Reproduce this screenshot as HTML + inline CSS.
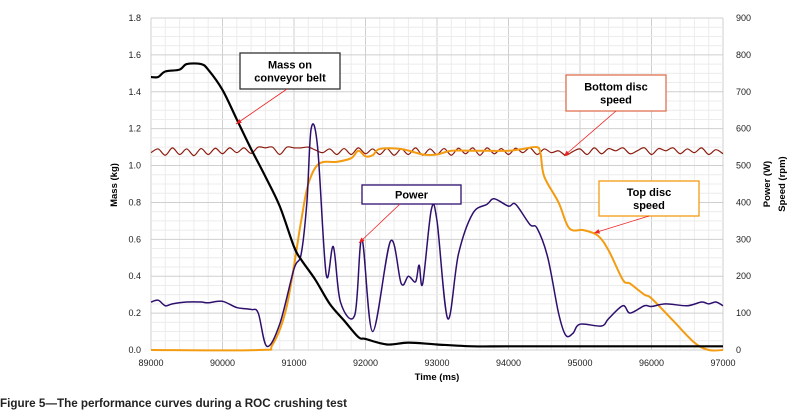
<!DOCTYPE html>
<html><head><meta charset="utf-8"><style>
body{margin:0;background:#fff;width:794px;height:412px;overflow:hidden}
svg{font-family:"Liberation Sans",sans-serif}
</style></head><body>
<svg id="c" width="794" height="412"></svg>
<script>
const massT=[89000,89100,89200,89400,89500,89700,89800,90000,90200,90400,90600,90800,91000,91100,91300,91500,91700,91900,92000,92300,92600,93000,93500,94000,95000,96000,97000];
const massV=[1.48,1.48,1.51,1.52,1.55,1.55,1.52,1.41,1.25,1.09,0.94,0.78,0.56,0.49,0.38,0.25,0.16,0.07,0.06,0.03,0.04,0.03,0.02,0.02,0.02,0.02,0.02];
const powT=[89000,89100,89200,89300,89500,89700,89800,90000,90200,90400,90500,90620,90800,91000,91100,91180,91240,91330,91450,91550,91650,91850,91950,92100,92350,92500,92600,92700,92750,92800,92920,93000,93150,93300,93500,93700,93800,94000,94100,94300,94400,94550,94700,94800,94900,95000,95300,95400,95600,95700,95900,96000,96200,96500,96700,96800,96900,97000];
const powV=[130,135,120,125,130,130,128,132,115,110,100,10,70,220,260,400,600,550,205,280,130,95,300,50,295,180,200,185,230,180,380,350,85,260,370,395,410,390,395,340,330,250,100,40,45,70,65,85,120,100,120,118,125,120,130,125,130,120];
const topT=[89000,90500,90700,90900,91100,91200,91350,91600,91800,91900,92000,92100,92200,92500,92800,93000,93200,93500,93700,94000,94200,94400,94450,94500,94700,94850,95050,95250,95400,95600,95700,95900,96000,96300,96600,96800,97000];
const topV=[0,0,15,120,350,450,505,510,520,540,525,528,545,545,530,530,540,540,540,540,545,550,530,470,400,330,325,310,270,190,180,150,140,80,20,0,0];
const botT=[89000,89100,89200,89300,89400,89500,89600,89700,89800,89900,90000,90100,90200,90300,90400,90500,90600,90700,90800,90900,91000,91100,91200,91300,91400,91500,91600,91700,91800,91900,92000,92100,92200,92300,92400,92500,92600,92700,92800,92900,93000,93100,93200,93300,93400,93500,93600,93700,93800,93900,94000,94100,94200,94300,94400,94500,94600,94700,94800,94900,95000,95100,95200,95300,95400,95500,95600,95700,95800,95900,96000,96100,96200,96300,96400,96500,96600,96700,96800,96900,97000];
const botV=[535,545,528,548,530,545,527,546,530,547,532,548,535,548,533,550,548,550,530,550,548,548,550,542,535,545,530,546,530,548,532,545,530,546,528,545,530,548,528,545,530,546,528,547,532,548,528,548,532,546,530,547,535,548,530,545,535,540,528,538,545,530,548,532,546,540,548,532,540,548,530,546,540,548,532,545,535,548,530,543,532];
const yTicks=["0.0","0.2","0.4","0.6","0.8","1.0","1.2","1.4","1.6","1.8"];
const y2Ticks=["0","100","200","300","400","500","600","700","800","900"];
const xTicks=["89000","90000","91000","92000","93000","94000","95000","96000","97000"];

const L=151,R=723,T=18,B=350;
const sx=t=>L+(t-89000)/8000*(R-L);
const sy=v=>B-v/1.8*(B-T);
const sy2=v=>B-v/900*(B-T);
const svg=document.getElementById('c');const NS='http://www.w3.org/2000/svg';
function mk(tag,at,txt){const e=document.createElementNS(NS,tag);for(const k in at)e.setAttribute(k,at[k]);if(txt!=null)e.textContent=txt;svg.appendChild(e);return e;}
for(let t=89000;t<=97000;t+=200){const e=mk('line',{x1:sx(t),x2:sx(t),y1:T,y2:B,stroke:t%1000?'#ececec':'#cfcfcf','stroke-width':1});
}
for(let i=0;i<=36;i++){const v=i*0.05;const e=mk('line',{x1:L,x2:R,y1:sy(v),y2:sy(v),stroke:i%4?'#ececec':'#cfcfcf','stroke-width':1});
}
yTicks.forEach((s,i)=>{const e=mk('text',{x:141,y:sy(+s)+3,'text-anchor':'end','font-size':9,fill:'#222'},s);
});
y2Ticks.forEach((s,i)=>{const e=mk('text',{x:736,y:sy2(+s)+3,'font-size':9,fill:'#222'},s);
});
xTicks.forEach(s=>{const e=mk('text',{x:sx(+s),y:366,'text-anchor':'middle','font-size':9,fill:'#222'},s);
});
function path(ts,vs,f){const p=ts.map((t,i)=>[sx(t),f(vs[i])]);let d='M'+p[0][0]+','+p[0][1];
for(let i=0;i<p.length-1;i++){const p0=p[i-1]||p[i],p1=p[i],p2=p[i+1],p3=p[i+2]||p2;
d+=` C${p1[0]+(p2[0]-p0[0])/6},${p1[1]+(p2[1]-p0[1])/6} ${p2[0]-(p3[0]-p1[0])/6},${p2[1]-(p3[1]-p1[1])/6} ${p2[0]},${p2[1]}`;}return d;}
let e;
e=mk('path',{d:path(botT,botV,sy2),fill:'none',stroke:'#8b1a0c','stroke-width':1.2});
e=mk('path',{d:path(topT,topV,sy2),fill:'none',stroke:'#f39c12','stroke-width':2});
e=mk('path',{d:path(powT,powV,sy2),fill:'none',stroke:'#2e0f6e','stroke-width':1.5});
e=mk('path',{d:path(massT,massV,sy),fill:'none',stroke:'#000','stroke-width':2.2});
e=mk('text',{x:437,y:380,'text-anchor':'middle','font-size':9.5,'font-weight':'bold'},'Time (ms)');
e=mk('text',{transform:'translate(117,185) rotate(-90)','text-anchor':'middle','font-size':9.5,'font-weight':'bold'},'Mass (kg)');
e=mk('text',{transform:'translate(770,184) rotate(-90)','text-anchor':'middle','font-size':9.5,'font-weight':'bold'},'Power (W)');
e=mk('text',{transform:'translate(785,184) rotate(-90)','text-anchor':'middle','font-size':9.5,'font-weight':'bold'},'Speed (rpm)');
function box(x,y,w,h,col,lines,name,ax1,ay1,ax2,ay2){
 const b=mk('rect',{x,y,width:w,height:h,fill:'#fff',stroke:col,'stroke-width':1.3});
 lines.forEach((s,i)=>{const t=mk('text',{x:x+w/2,y:y+h/2+4+(i-(lines.length-1)/2)*13,'text-anchor':'middle','font-size':11,'font-weight':'bold'},s);});
 const a=mk('line',{x1:ax1,y1:ay1,x2:ax2,y2:ay2,stroke:'#e22','stroke-width':0.8});
 const ang=Math.atan2(ay2-ay1,ax2-ax1),s=6;
 const h2=mk('polygon',{points:`${ax2},${ay2} ${ax2-s*Math.cos(ang-0.4)},${ay2-s*Math.sin(ang-0.4)} ${ax2-s*Math.cos(ang+0.4)},${ay2-s*Math.sin(ang+0.4)}`,fill:'#e22'});
}
box(240,53,100,36,'#333',['Mass on','conveyor belt'],'mass-annotation',287,89,236,124);
box(566,75,100,36,'#e07050',['Bottom disc','speed'],'bottom-disc-annotation',616,111,564,156);
box(599,181,100,35,'#f39c12',['Top disc','speed'],'top-disc-annotation',649,216,594,233);
box(362,185,99,19,'#2e0f6e',['Power'],'power-annotation',400,204,359,243);
e=mk('text',{x:0,y:407,'font-size':11.5,'font-weight':'bold',fill:'#222',textLength:347,lengthAdjust:'spacingAndGlyphs'},'Figure 5\u2014The performance curves during a ROC crushing test');
</script>
</body></html>
